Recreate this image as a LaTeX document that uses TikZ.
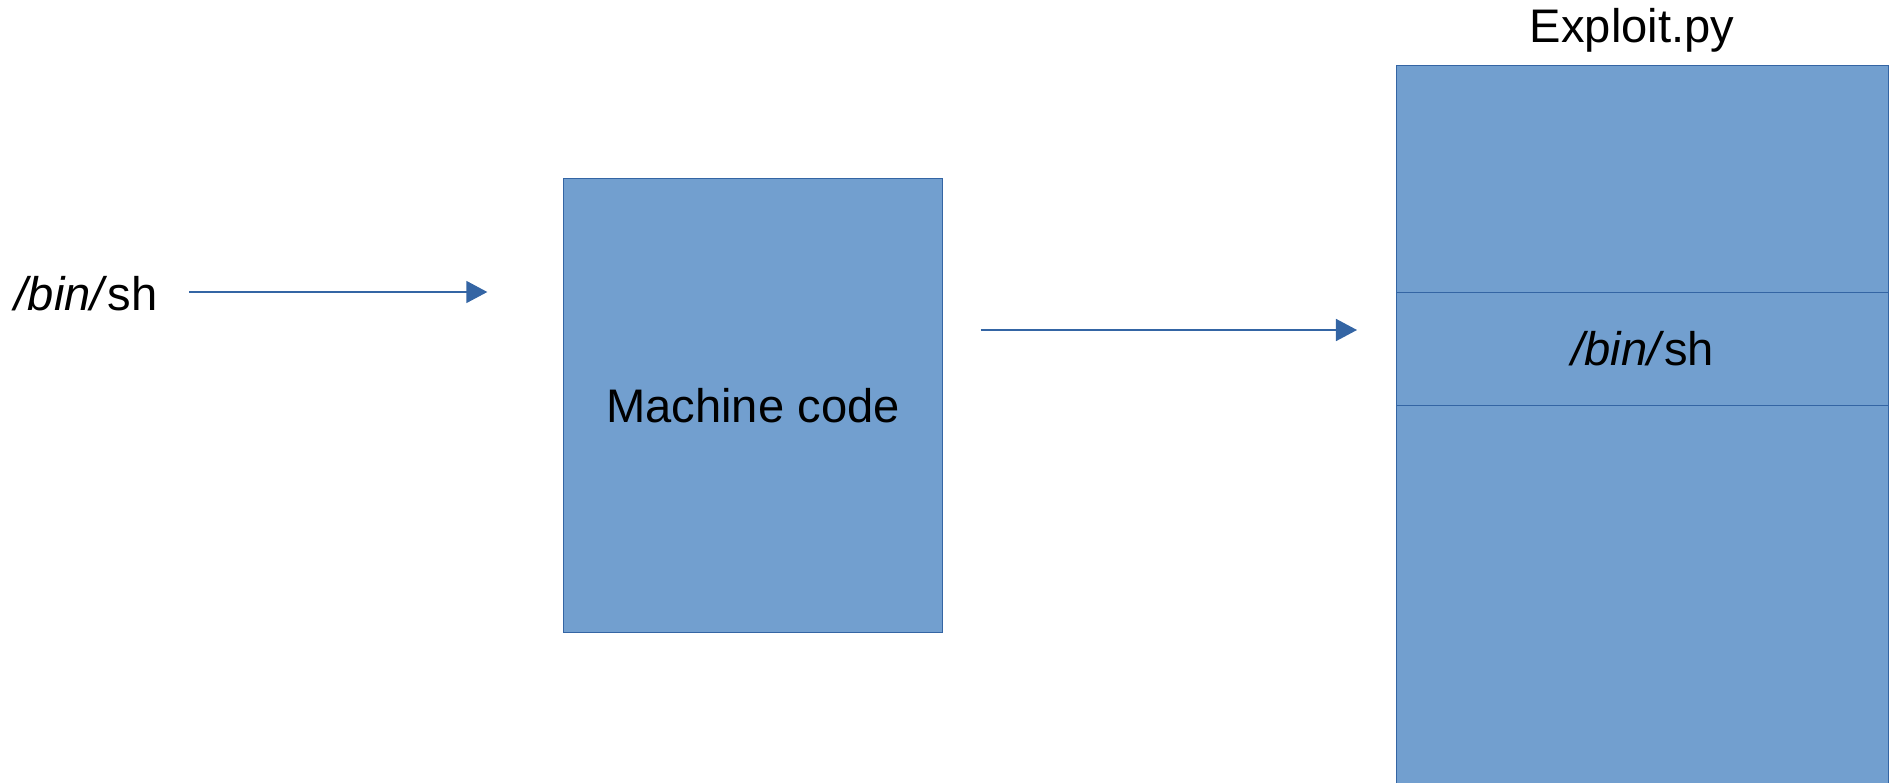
\documentclass[tikz,border=0pt]{standalone}
\usepackage{fontspec}
\setmainfont{Liberation Sans}
\usetikzlibrary{arrows.meta,positioning}

\definecolor{boxfill}{HTML}{729FCF}
\definecolor{boxline}{HTML}{3465A4}

\tikzset{
  block/.style={draw=boxline, line width=0.3pt, fill=boxfill, inner sep=0pt},
  flow/.style={draw=boxline, line width=0.45pt, -{Triangle[length=0.21cm,width=0.22cm]}},
  txt/.style={inner sep=0pt, font=\fontsize{13.4}{16}\selectfont}
}

\begin{document}
\begin{tikzpicture}[x=0.01cm,y=-0.01cm]
\useasboundingbox (0,0) rectangle (1895,782);
\clip (0,0) rectangle (1895,782);

% boxes
\node[block, txt, minimum width=3.78cm, minimum height=4.53cm] (machine) at (753,405.5) {Machine code};
\node[block, minimum width=4.92cm, minimum height=7.35cm, anchor=north west] (exploit) at (1396,65) {};
\node[block, txt, minimum width=4.92cm, minimum height=1.13cm, anchor=north west] (band) at (1396,292) {\textit{/bin/}sh};

% labels
\node[txt, anchor=base] (title) at (1632,43) {Exploit.py};
\node[txt, anchor=base west] (bin) at (14,310) {\textit{/bin/}sh};

% arrows
\coordinate (lvla) at (0,292);
\coordinate (lvlb) at (0,330);
\draw[flow, shorten <=0.31cm, shorten >=0.76cm] (bin.east |- lvla) -- (machine.west |- lvla);
\draw[flow, shorten <=0.38cm, shorten >=0.39cm] (machine.east |- lvlb) -- (exploit.west |- lvlb);

\end{tikzpicture}
\end{document}
